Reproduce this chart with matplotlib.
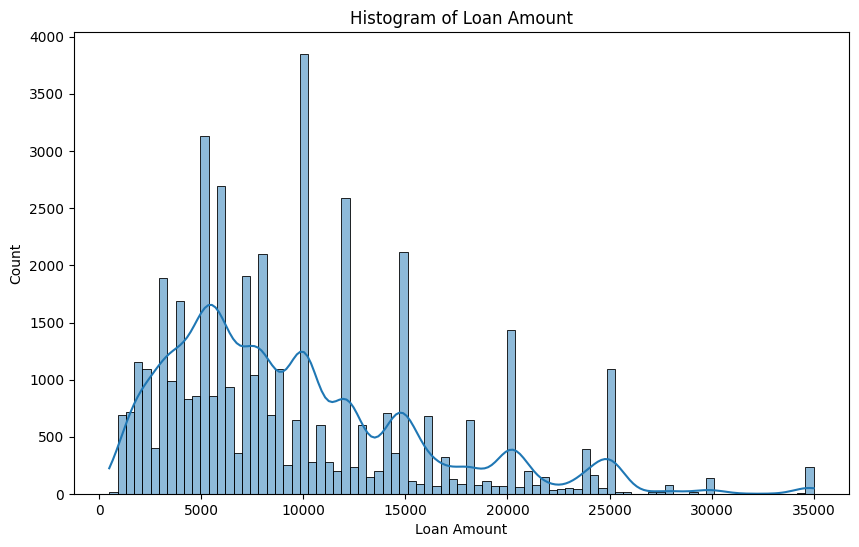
import matplotlib
matplotlib.use("Agg")
import matplotlib.pyplot as plt
import numpy as np
import seaborn as sns

# ---------------- data ----------------
bin_start = 500
bin_stop = 35000
n_bins = 85

counts = [
    20, 689, 715, 1152, 1091, 400, 1887, 989, 1686, 831,
    855, 3130, 855, 2692, 933, 356, 1905, 1041, 2097, 689,
    1091, 254, 647, 3850, 277, 601, 277, 200, 2587, 233,
    601, 146, 200, 706, 356, 2115, 111, 85, 680, 67,
    321, 130, 85, 645, 76, 111, 67, 67, 1432, 58,
    200, 76, 146, 32, 41, 50, 41, 391, 166, 50,
    1091, 15, 15, 3, 3, 17, 17, 76, 4, 4,
    15, 4, 137, 2, 3, 2, 1, 2, 3, 2,
    2, 1, 3, 5, 233,
]

edges = np.linspace(bin_start, bin_stop, n_bins + 1)
centers = (edges[:-1] + edges[1:]) / 2
# rebuild a sample so the kde is fitted the same way as on raw data
loan_amount = np.repeat(centers, counts)

# kde should run over the whole data range (min..max), so stretch it by half a bin
bw = loan_amount.std(ddof=1) * len(loan_amount) ** (-1 / 5)
half_bin = (edges[1] - edges[0]) / 2

# ---------------- plot ----------------
fig = plt.figure(figsize=(8.59, 5.47), dpi=100)
ax = fig.add_axes([74 / 859, 53 / 547, 775 / 859, 462 / 547])

sns.histplot(loan_amount, bins=edges, kde=True, ax=ax,
             kde_kws={"cut": half_bin / bw})

ax.set_title("Histogram of Loan Amount")
ax.set_xlabel("Loan Amount")
ax.set_ylabel("Count")

fig.savefig("out.png", dpi=100)
plt.close(fig)
